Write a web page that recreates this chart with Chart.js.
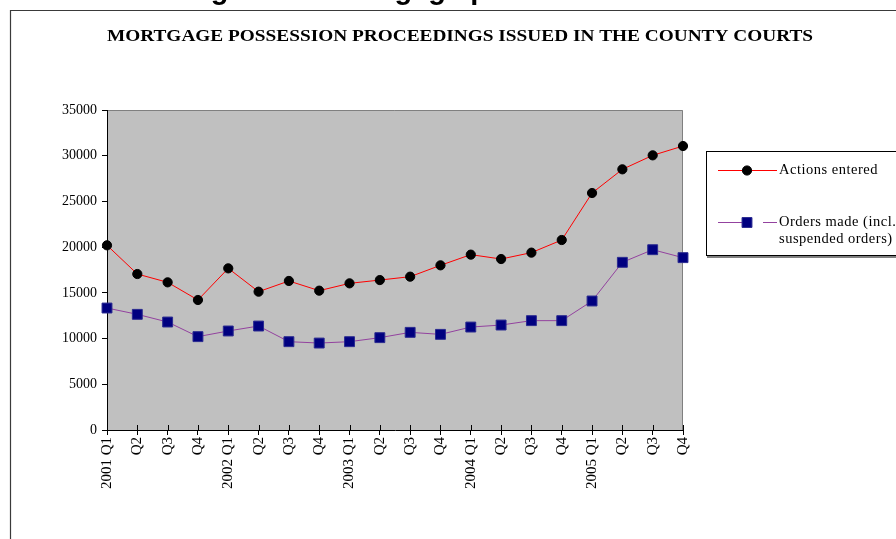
<!DOCTYPE html>
<html>
<head>
<meta charset="utf-8">
<title>Mortgage possession proceedings</title>
<script src="https://cdn.jsdelivr.net/npm/chart.js@4"></script>
<style>
  html, body { margin: 0; padding: 0; background: #fff; }
  #wrap { width: 896px; height: 539px; }
</style>
</head>
<body>
<div id="wrap"><canvas id="chart" width="896" height="539"></canvas></div>
<script>
// Quarterly counts, England and Wales county courts
const quarterLabels = [
  '2001 Q1', 'Q2', 'Q3', 'Q4',
  '2002 Q1', 'Q2', 'Q3', 'Q4',
  '2003 Q1', 'Q2', 'Q3', 'Q4',
  '2004 Q1', 'Q2', 'Q3', 'Q4',
  '2005 Q1', 'Q2', 'Q3', 'Q4'
];
const actionsEntered = [
  20200, 17060, 16150, 14220,
  17680, 15130, 16300, 15240,
  16040, 16400, 16770, 18010,
  19180, 18700, 19400, 20780,
  25920, 28510, 30040, 31060
];
const ordersMade = [
  13340, 12650, 11810, 10210,
  10830, 11370, 9660, 9510,
  9660, 10100, 10680, 10460,
  11260, 11480, 11960, 11960,
  14110, 18340, 19720, 18850
];
const seriesNames = ['Actions entered', 'Orders made (incl. suspended orders)'];
const yMin = 0, yMax = 35000, yStep = 5000;

const pageHeading = 'Figure 10: Mortgage possession';
const chartTitle = 'MORTGAGE POSSESSION PROCEEDINGS ISSUED IN THE COUNTY COURTS';

const SERIF = '"Liberation Serif", "Times New Roman", serif';

// Page frame, heading, title and the grey plot background
const backdrop = {
  id: 'backdrop',
  beforeDraw(chart) {
    const { ctx, chartArea: a } = chart;
    ctx.save();
    ctx.fillStyle = '#fff';
    ctx.fillRect(0, 0, chart.width, chart.height);

    // heading text running above the frame
    ctx.fillStyle = '#000';
    ctx.font = 'bold 29px "Liberation Sans", Arial, sans-serif';
    ctx.textBaseline = 'alphabetic';
    ctx.textAlign = 'left';
    ctx.fillText(pageHeading, 185, -1);

    // frame
    ctx.strokeStyle = '#3a3a3a';
    ctx.lineWidth = 1.2;
    ctx.beginPath();
    ctx.moveTo(10.5, chart.height + 2);
    ctx.lineTo(10.5, 10.5);
    ctx.lineTo(chart.width + 2, 10.5);
    ctx.stroke();

    // title, set slightly wide across the page
    ctx.font = 'bold 17px ' + SERIF;
    ctx.textAlign = 'center';
    ctx.textBaseline = 'middle';
    const tw = ctx.measureText(chartTitle).width;
    ctx.save();
    ctx.translate(460, 37);
    ctx.scale(706 / tw, 1);
    ctx.fillText(chartTitle, 0, 0);
    ctx.restore();

    // plot area
    ctx.fillStyle = '#c0c0c0';
    ctx.fillRect(a.left, a.top, a.right - a.left, a.bottom - a.top);
    ctx.strokeStyle = '#808080';
    ctx.lineWidth = 1;
    ctx.beginPath();
    ctx.moveTo(a.left, a.top + 0.5);
    ctx.lineTo(a.right - 0.5, a.top + 0.5);
    ctx.lineTo(a.right - 0.5, a.bottom);
    ctx.stroke();
    ctx.restore();
  },
  beforeDatasetsDraw(chart) {
    // category ticks cross the axis line, reaching into the plot
    const { ctx, chartArea: a } = chart;
    const xs = chart.scales.x;
    ctx.save();
    ctx.strokeStyle = '#000';
    ctx.lineWidth = 1;
    ctx.beginPath();
    for (let i = 0; i < xs.ticks.length; i++) {
      const px = Math.round(xs.getPixelForTick(i)) + 0.5;
      ctx.moveTo(px, a.bottom - 5);
      ctx.lineTo(px, a.bottom);
    }
    ctx.stroke();
    ctx.restore();
  }
};

function drawMarker(ctx, ds, x, y) {
  ctx.fillStyle = ds.pointBackgroundColor;
  ctx.strokeStyle = ds.pointBorderColor;
  ctx.lineWidth = 1;
  ctx.beginPath();
  if (ds.pointStyle === 'rect') {
    const s = Math.SQRT1_2 * ds.pointRadius;
    ctx.rect(x - s, y - s, 2 * s, 2 * s);
  } else {
    ctx.arc(x, y, ds.pointRadius, 0, Math.PI * 2);
  }
  ctx.fill();
  ctx.stroke();
}

// Boxed legend to the right of the plot
const sideLegend = {
  id: 'sideLegend',
  afterDraw(chart) {
    const { ctx } = chart;
    const box = { x: 706, y: 151, w: 200, h: 104 };
    ctx.save();
    ctx.fillStyle = '#fff';
    ctx.fillRect(box.x, box.y, box.w, box.h);
    ctx.strokeStyle = '#000';
    ctx.lineWidth = 1;
    ctx.strokeRect(box.x + 0.5, box.y + 0.5, box.w, box.h);
    ctx.strokeStyle = '#808080';
    ctx.lineWidth = 2;
    ctx.beginPath();
    ctx.moveTo(box.x + 1, box.y + box.h + 2);
    ctx.lineTo(box.x + box.w, box.y + box.h + 2);
    ctx.stroke();

    ctx.font = '14.5px ' + SERIF;
    ctx.letterSpacing = '0.5px';
    ctx.textAlign = 'left';
    ctx.textBaseline = 'middle';
    const rows = [170, 222];
    const textX = 779;
    chart.data.datasets.forEach((ds, i) => {
      const y = rows[i];
      ctx.strokeStyle = ds.borderColor;
      ctx.lineWidth = 1;
      ctx.beginPath();
      if (i === 0) {
        ctx.moveTo(718, y + 0.5);
        ctx.lineTo(777, y + 0.5);
      } else {
        ctx.moveTo(718, y + 0.5);
        ctx.lineTo(745, y + 0.5);
        ctx.moveTo(763, y + 0.5);
        ctx.lineTo(777, y + 0.5);
      }
      ctx.stroke();
      drawMarker(ctx, ds, 747, y + 0.5);

      // wrap long labels onto a second line
      const words = ds.label.split(' ');
      const lines = [];
      let cur = '';
      words.forEach(w => {
        const t = cur ? cur + ' ' + w : w;
        if (ctx.measureText(t).width > 150 && cur) { lines.push(cur); cur = w; }
        else cur = t;
      });
      lines.push(cur);
      ctx.fillStyle = '#000';
      lines.forEach((ln, k) => ctx.fillText(ln, textX, y + k * 17));
    });
    ctx.restore();
  }
};

const tickFont = { family: SERIF, size: 14 };

new Chart(document.getElementById('chart'), {
  type: 'line',
  data: {
    labels: quarterLabels,
    datasets: [
      {
        label: seriesNames[0],
        data: actionsEntered,
        borderColor: '#ff0000',
        borderWidth: 1,
        pointStyle: 'circle',
        pointRadius: 4.6,
        pointBackgroundColor: '#000',
        pointBorderColor: '#000',
        pointBorderWidth: 1,
        tension: 0,
        clip: false
      },
      {
        label: seriesNames[1],
        data: ordersMade,
        borderColor: '#93429f',
        borderWidth: 1,
        pointStyle: 'rect',
        pointRadius: 7,
        pointBackgroundColor: '#000080',
        pointBorderColor: '#2a2a90',
        pointBorderWidth: 1,
        tension: 0,
        clip: false
      }
    ]
  },
  options: {
    responsive: false,
    animation: false,
    devicePixelRatio: 1,
    layout: { padding: { top: 110, right: 213, left: 0, bottom: 0 } },
    plugins: {
      legend: { display: false },
      title: { display: false },
      tooltip: { enabled: false }
    },
    scales: {
      x: {
        type: 'category',
        offset: false,
        grid: { drawOnChartArea: false, drawTicks: true, tickLength: 5, color: '#000' },
        border: { color: '#000', width: 1 },
        ticks: {
          autoSkip: false, minRotation: 90, maxRotation: 90,
          color: '#000', font: { family: SERIF, size: 15 }, padding: 2
        },
        afterFit(s) { s.height = 109; }
      },
      y: {
        min: yMin, max: yMax,
        grid: { drawOnChartArea: false, drawTicks: true, tickLength: 5, color: '#000' },
        border: { color: '#000', width: 1 },
        ticks: {
          stepSize: yStep, color: '#000', font: tickFont, padding: 5,
          callback: v => String(v)
        },
        afterFit(s) { s.width = 107; }
      }
    }
  },
  plugins: [backdrop, sideLegend]
});
</script>
</body>
</html>
